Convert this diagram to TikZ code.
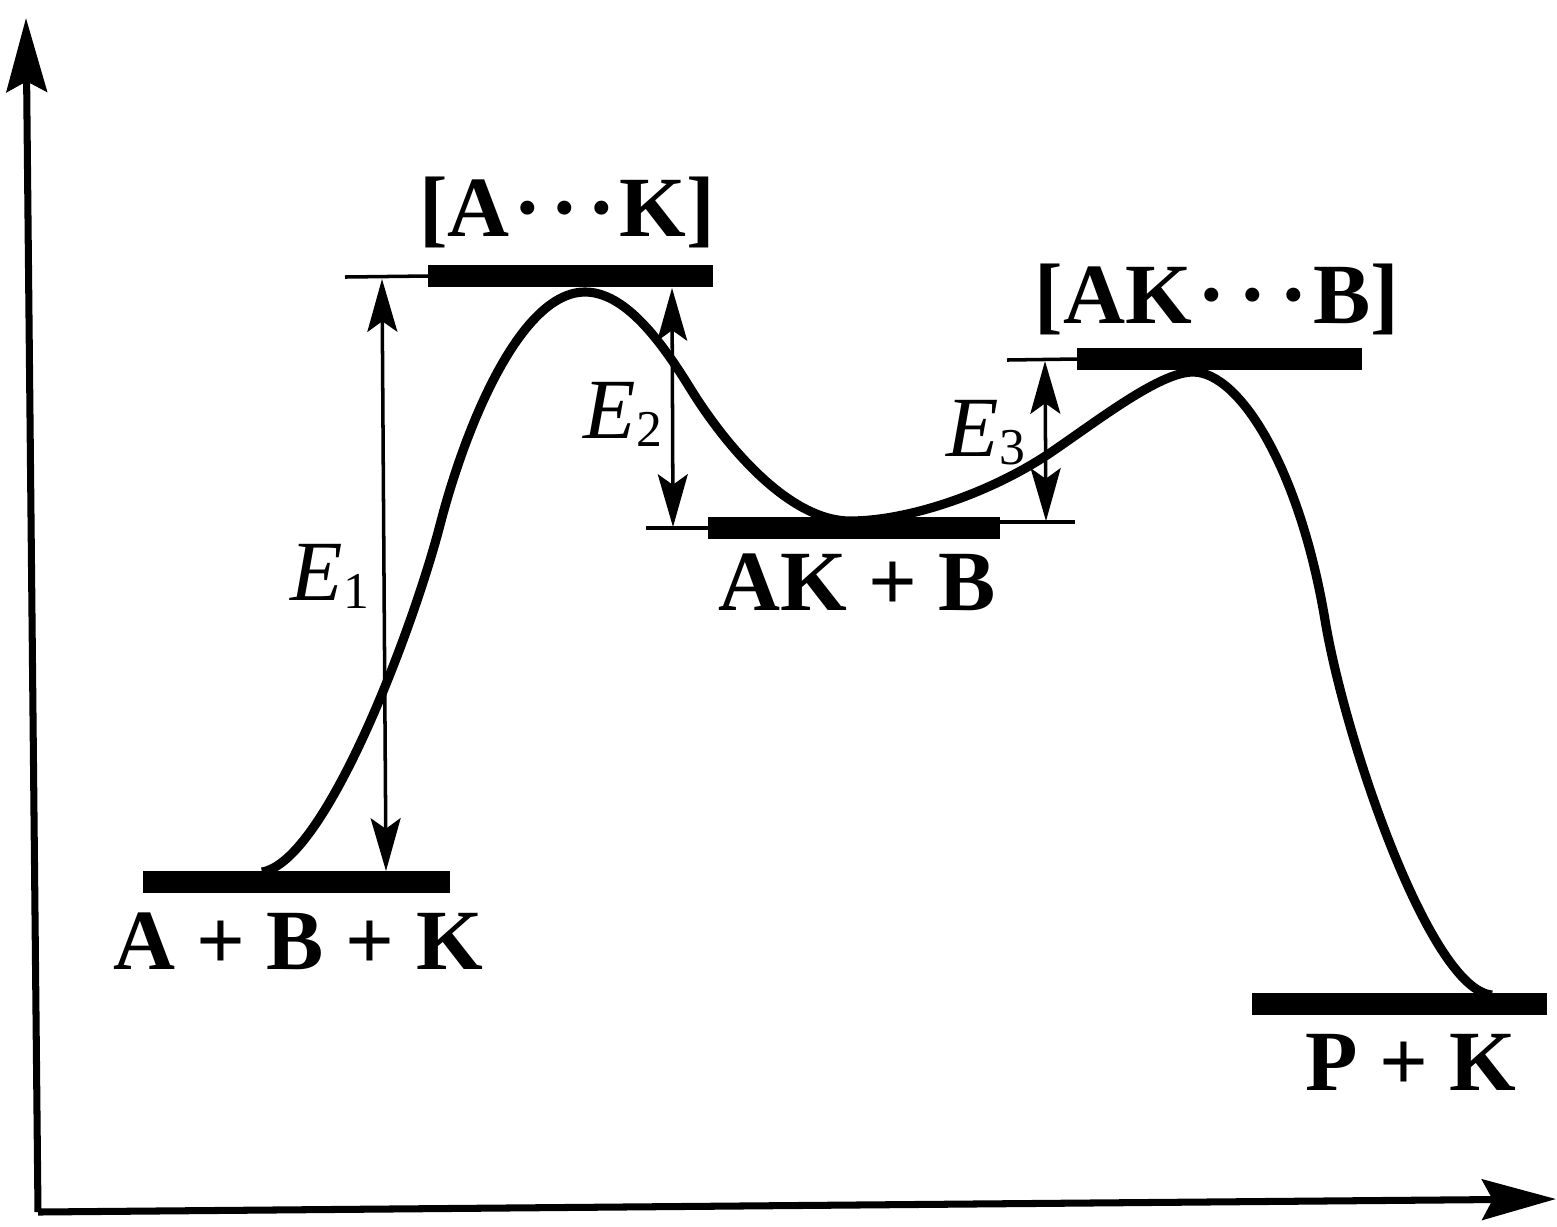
\documentclass[tikz,border=0pt]{standalone}
\usepackage{fontspec}
\setmainfont{Liberation Serif}
\usetikzlibrary{arrows.meta}
\begin{document}
\begin{tikzpicture}[x=0.01cm,y=-0.01cm,
  axis/.style={line width=2pt,-{Stealth[length=21pt,width=11.5pt,inset=3pt]}},
  level/.style={line width=6.5pt},
  guide/.style={line width=1pt},
  energy/.style={line width=1pt,{Stealth[length=15pt,width=8.5pt,inset=3pt]}-{Stealth[length=15pt,width=8.5pt,inset=3pt]}},
  curve/.style={line width=2.6pt,line join=round},
  chem/.style={font=\bfseries\fontsize{24.4}{29}\selectfont, inner sep=0pt, anchor=base},
  elab/.style={font=\fontsize{24.4}{29}\selectfont, inner sep=0pt, anchor=base west}
]
\useasboundingbox (0,0) rectangle (1557,1226);

% axes
\coordinate (O) at (38,1212);
\coordinate (Ytip) at (26,18);
\coordinate (Xtip) at (1556,1199);
\draw[axis] (O) -- (Ytip);
\draw[axis] (O) -- (Xtip);

% reaction curve
\draw[curve] (262,872)
  .. controls (325,862) and (412,632) .. (440,525)
  .. controls (465,428) and (520,292) .. (585,292)
  .. controls (625,292) and (661,341) .. (690,388)
  .. controls (727,448) and (790,521) .. (850,521)
  .. controls (910,521) and (992,492) .. (1050,453)
  .. controls (1100,419) and (1160,372) .. (1193,372)
  .. controls (1240,372) and (1300,470) .. (1325,620)
  .. controls (1345,740) and (1430,990) .. (1492,995);

% energy levels
\coordinate (R1) at (143,882);  \coordinate (R2) at (450,882);
\coordinate (T1a) at (428,276); \coordinate (T1b) at (713,276);
\coordinate (I1) at (708,528);  \coordinate (I2) at (1000,528);
\coordinate (T2a) at (1077,359); \coordinate (T2b) at (1362,359);
\coordinate (P1) at (1252,1004); \coordinate (P2) at (1547,1004);
\draw[level] (R1) -- (R2);
\draw[level] (T1a) -- (T1b);
\draw[level] (I1) -- (I2);
\draw[level] (T2a) -- (T2b);
\draw[level] (P1) -- (P2);

% thin guide lines
\coordinate (g1) at (345,277);
\coordinate (g2) at (646,528);
\coordinate (g3a) at (990,522);
\coordinate (g3) at (1075,522);
\coordinate (g4) at (1007,360);
\draw[guide] (g1) -- (T1a);
\draw[guide] (g2) -- (I1);
\draw[guide] (g3a) -- (g3);
\draw[guide] (g4) -- (T2a);

% energy arrows
\coordinate (e1b) at (386,871); \coordinate (e1t) at (382,279);
\coordinate (e2t) at (672,288); \coordinate (e2b) at (673,527);
\coordinate (e3t) at (1045,361); \coordinate (e3b) at (1046,521);
\draw[energy] (e1b) -- (e1t);
\draw[energy] (e2t) -- (e2b);
\draw[energy] (e3t) -- (e3b);

% labels
\node[chem] (lR) at (298,969) {A + B + K};
\node[chem] (lT1) at (567,236) {[A\kern1pt·\kern2.4pt·\kern2.4pt·\kern1pt K]};
\node[chem] (lI) at (857,610) {AK + B};
\node[chem] (lT2) at (1217,323) {[AK\kern1.5pt·\kern3.6pt·\kern3.6pt·\kern1.5pt B]};
\node[chem] (lP) at (1411,1090) {P + K};

\node[elab] (lE1) at (290,600) {\itshape E\raisebox{-2.3pt}{\fontsize{14.7}{16}\selectfont\upshape 1}};
\node[elab] (lE2) at (583,438) {\itshape E\raisebox{-2.3pt}{\fontsize{14.7}{16}\selectfont\upshape 2}};
\node[elab] (lE3) at (946,456) {\itshape E\raisebox{-2.3pt}{\fontsize{14.7}{16}\selectfont\upshape 3}};
\end{tikzpicture}
\end{document}
